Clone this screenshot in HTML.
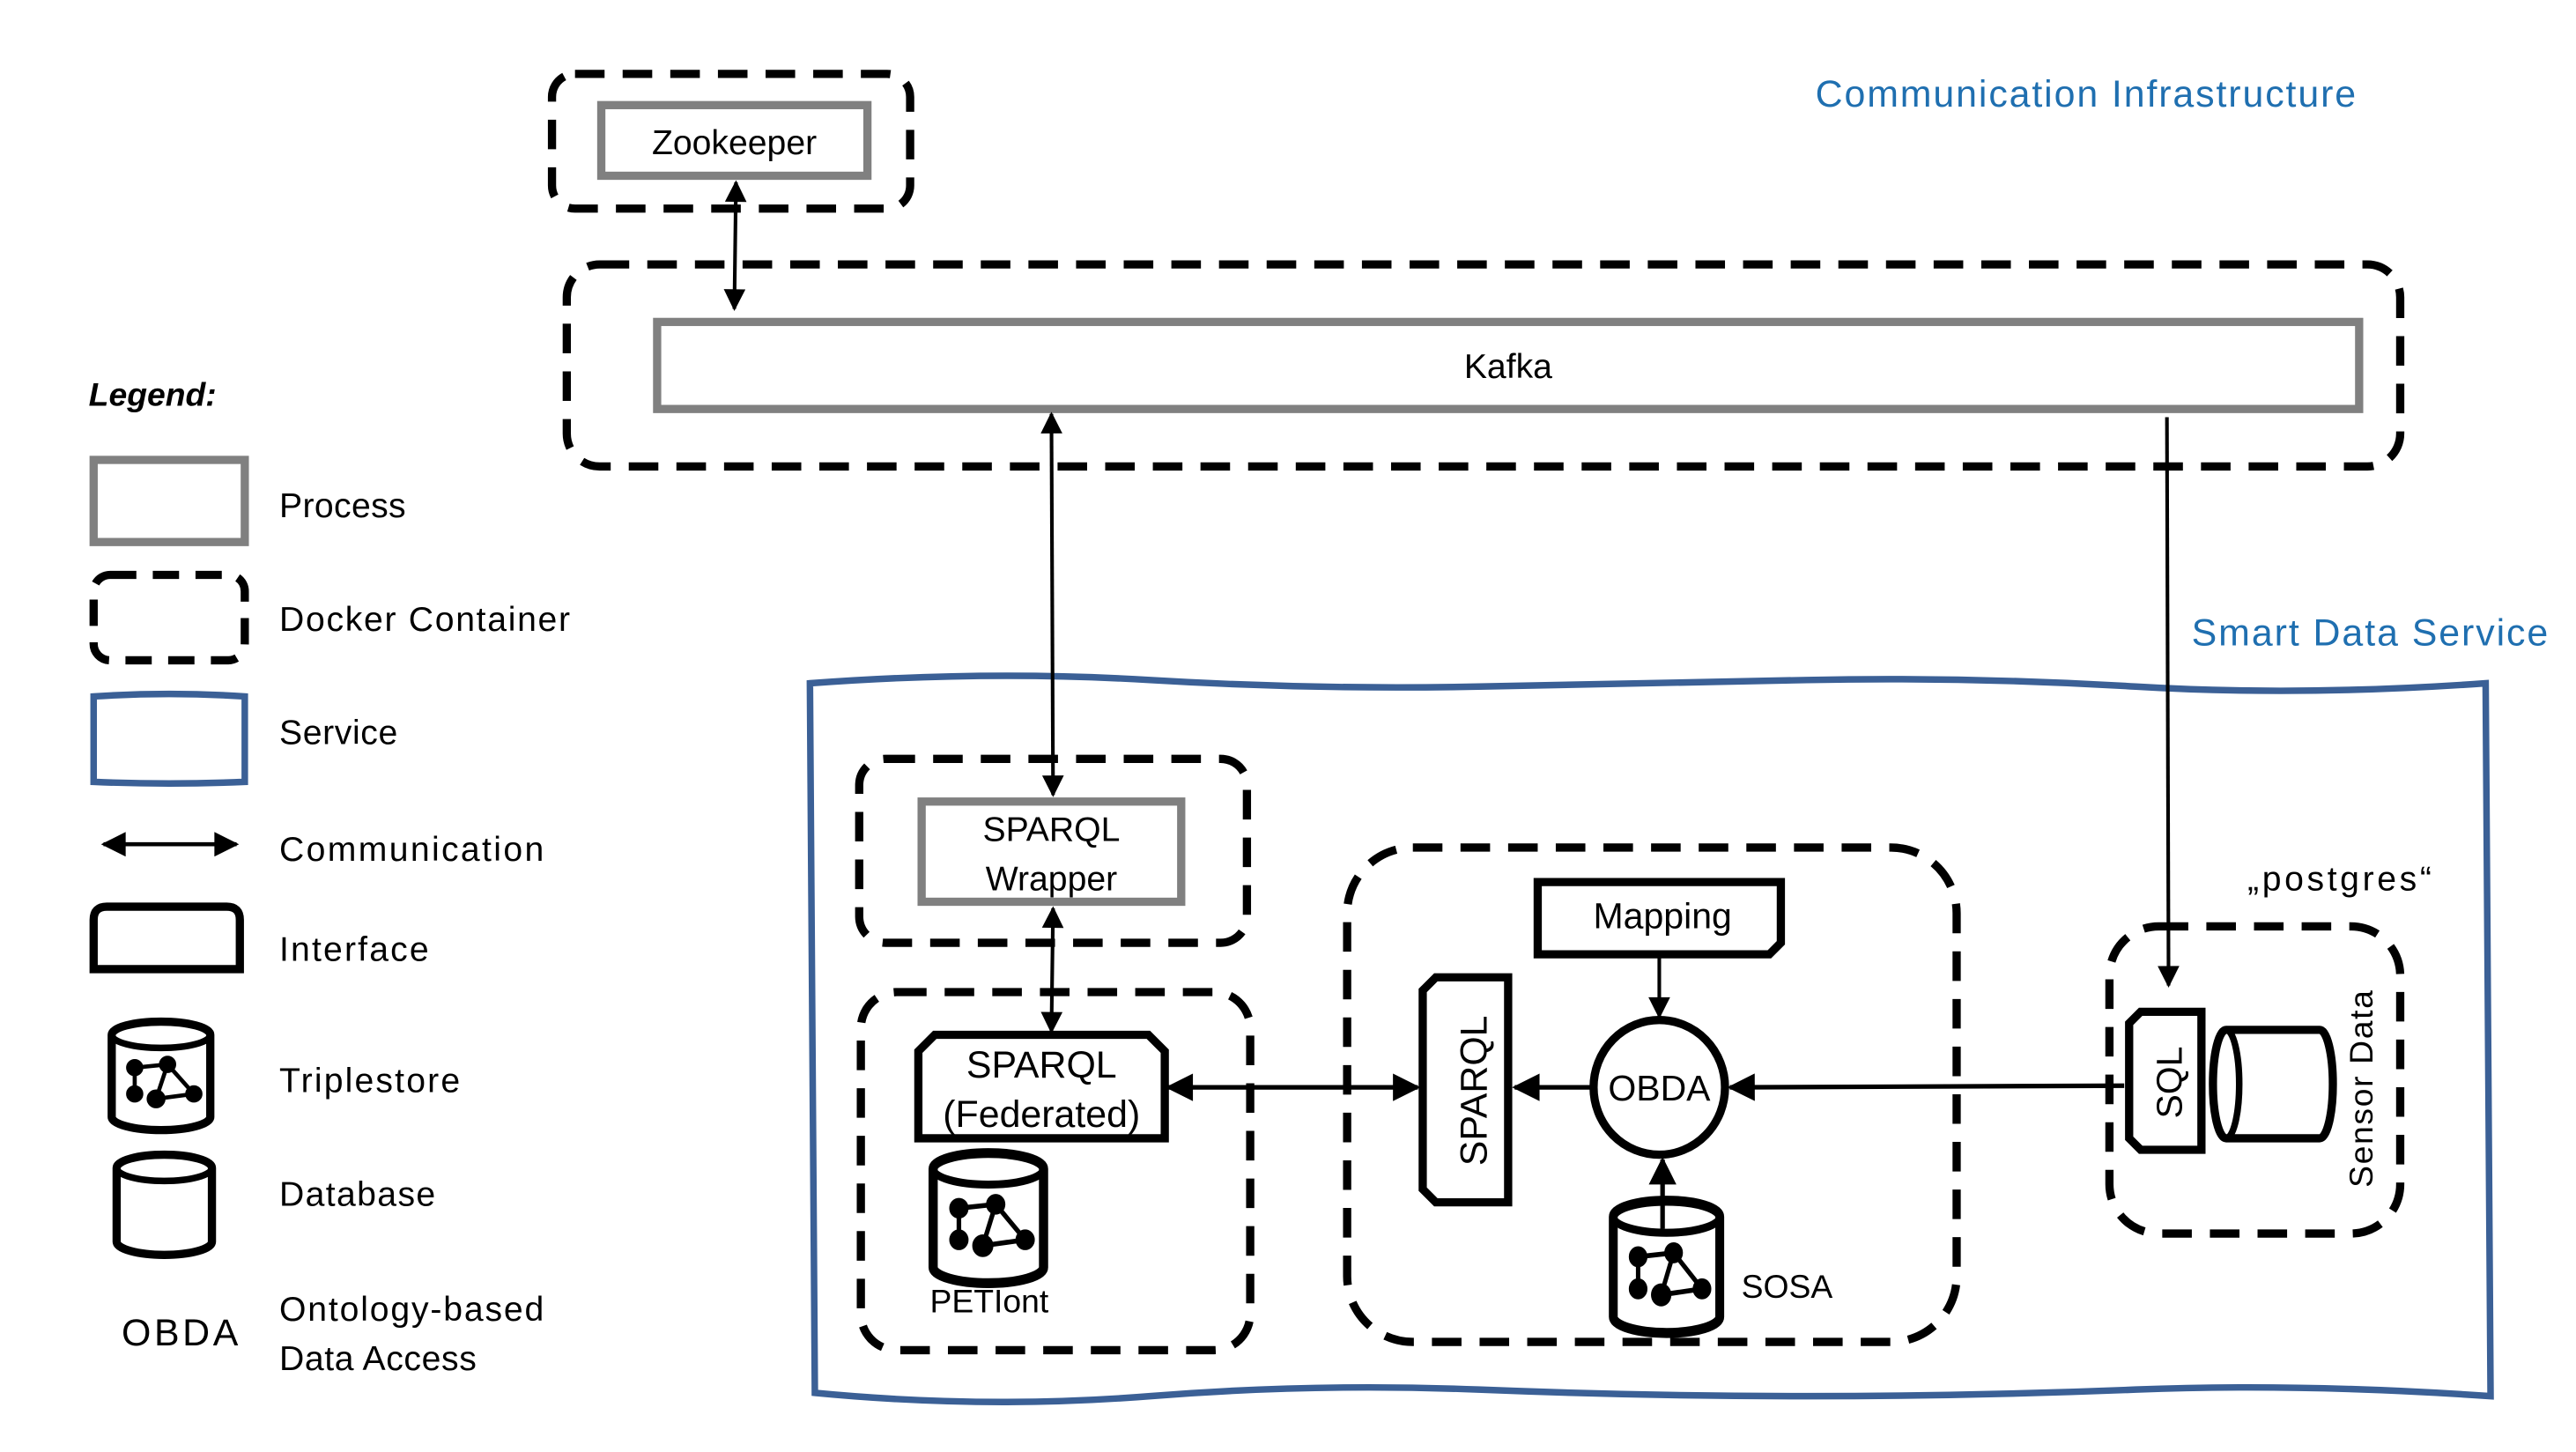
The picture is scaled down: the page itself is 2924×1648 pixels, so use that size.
<!DOCTYPE html>
<html><head><meta charset="utf-8"><style>
html,body{margin:0;padding:0;background:#fff;}
svg{display:block;}
text{font-family:"Liberation Sans",sans-serif;fill:#000;}
</style></head><body>
<svg width="2924" height="1648" viewBox="0 0 1568 884" preserveAspectRatio="none" xmlns="http://www.w3.org/2000/svg">
<defs>
<marker id="ah" viewBox="0 0 10 10" refX="9" refY="5" markerWidth="6.5" markerHeight="6" orient="auto-start-reverse"><path d="M0,0 L10,5 L0,10 Z" fill="#000"/></marker>
<g id="tri">
 <path d="M0,8 A30,8 0 0 1 60,8 L60,58 A30,8 0 0 1 0,58 Z" fill="#fff" stroke="#000" stroke-width="5"/>
 <path d="M0,8 A30,8 0 0 0 60,8" fill="none" stroke="#000" stroke-width="4"/>
 <g stroke="#000" stroke-width="2.5" fill="#000">
  <line x1="14" y1="28" x2="34" y2="26"/><line x1="14" y1="28" x2="14" y2="44"/><line x1="34" y1="26" x2="27" y2="47"/><line x1="34" y1="26" x2="50" y2="44"/><line x1="27" y1="47" x2="50" y2="44"/>
  <circle cx="14" cy="28" r="4"/><circle cx="34" cy="26" r="4"/><circle cx="14" cy="44" r="4"/><circle cx="27" cy="47" r="4.5"/><circle cx="50" cy="44" r="4"/>
 </g>
</g>
</defs>

<text x="1105" y="65" font-size="23" textLength="329" style="fill:#1f6fb0">Communication Infrastructure</text>
<text x="1334" y="393" font-size="23" textLength="217" style="fill:#1f6fb0">Smart Data Service</text>

<!-- Zookeeper -->
<rect x="336" y="45" width="218" height="82" rx="14" fill="none" stroke="#000" stroke-width="5" stroke-dasharray="18,11"/>
<rect x="366" y="64" width="162" height="43" fill="#fff" stroke="#808080" stroke-width="5"/>
<text x="447" y="94" font-size="21" text-anchor="middle">Zookeeper</text>
<line x1="448" y1="111" x2="447" y2="188" stroke="#000" stroke-width="2.2" marker-start="url(#ah)" marker-end="url(#ah)"/>

<!-- Kafka -->
<rect x="345" y="161" width="1116" height="123" rx="20" fill="none" stroke="#000" stroke-width="5" stroke-dasharray="18,11"/>
<rect x="400" y="196" width="1036" height="53" fill="#fff" stroke="#808080" stroke-width="5"/>
<text x="918" y="230" font-size="21" text-anchor="middle">Kafka</text>

<!-- Legend -->
<text x="54" y="247" font-size="20" font-weight="bold" font-style="italic">Legend:</text>
<rect x="57" y="280" width="92" height="50" fill="none" stroke="#808080" stroke-width="5"/>
<text x="170" y="315" font-size="21" textLength="77">Process</text>
<rect x="57" y="350" width="92" height="52" rx="10" fill="none" stroke="#000" stroke-width="5" stroke-dasharray="16,10"/>
<text x="170" y="384" font-size="21" textLength="177">Docker Container</text>
<path d="M57,424 Q103,421 149,424 L149,476 Q103,478 57,476 Z" fill="none" stroke="#3b6096" stroke-width="4"/>
<text x="170" y="453" font-size="21" textLength="72">Service</text>
<line x1="63" y1="514" x2="144" y2="514" stroke="#000" stroke-width="2.5" marker-start="url(#ah)" marker-end="url(#ah)"/>
<text x="170" y="524" font-size="21" textLength="161">Communication</text>
<path d="M57,590 L57,560 Q57,552 65,552 L138,552 Q146,552 146,560 L146,590 Z" fill="none" stroke="#000" stroke-width="5"/>
<text x="170" y="585" font-size="21" textLength="91">Interface</text>
<use href="#tri" x="68" y="622"/>
<text x="170" y="665" font-size="21" textLength="110">Triplestore</text>
<path d="M71,711 A29,8 0 0 1 129,711 L129,756 A29,8 0 0 1 71,756 Z" fill="#fff" stroke="#000" stroke-width="5"/>
<path d="M71,711 A29,8 0 0 0 129,711" fill="none" stroke="#000" stroke-width="4"/>
<text x="170" y="734" font-size="21" textLength="95">Database</text>
<text x="74" y="819" font-size="23" textLength="71">OBDA</text>
<text x="170" y="804" font-size="21" textLength="161">Ontology-based</text>
<text x="170" y="834" font-size="21" textLength="120">Data Access</text>

<!-- Service wavy -->
<path d="M493,416 Q600,408 700,414 T900,418 T1100,414 T1300,418 T1513,416 L1516,850 Q1400,842 1300,846 T1100,850 T900,846 T700,850 T496,848 Z" fill="none" stroke="#3b6096" stroke-width="4"/>

<!-- Kafka arrows -->
<line x1="640" y1="252" x2="641" y2="484" stroke="#000" stroke-width="2.2" marker-start="url(#ah)" marker-end="url(#ah)"/>
<line x1="1319" y1="254" x2="1320" y2="600" stroke="#000" stroke-width="2.2" marker-end="url(#ah)"/>

<!-- Wrapper container -->
<rect x="523" y="462" width="236" height="112" rx="16" fill="none" stroke="#000" stroke-width="5" stroke-dasharray="18,11"/>
<rect x="561" y="488" width="158" height="61" fill="#fff" stroke="#808080" stroke-width="5"/>
<text x="640" y="512" font-size="21" text-anchor="middle">SPARQL</text>
<text x="640" y="542" font-size="21" text-anchor="middle">Wrapper</text>
<line x1="641" y1="553" x2="640" y2="628" stroke="#000" stroke-width="2.2" marker-start="url(#ah)" marker-end="url(#ah)"/>

<!-- Federated container -->
<rect x="524" y="604" width="237" height="218" rx="22" fill="none" stroke="#000" stroke-width="5" stroke-dasharray="18,11"/>
<path d="M559,693 L559,640 L569,630 L699,630 L709,640 L709,693 Z" fill="#fff" stroke="#000" stroke-width="5"/>
<text x="634" y="656" font-size="23" text-anchor="middle">SPARQL</text>
<text x="634" y="686" font-size="23" text-anchor="middle">(Federated)</text>
<use href="#tri" transform="translate(568,702) scale(1.12,1.2)"/>
<text x="566" y="799" font-size="20">PETIont</text>

<!-- Middle container -->
<rect x="820" y="516" width="371" height="301" rx="40" fill="none" stroke="#000" stroke-width="5" stroke-dasharray="18,11"/>
<path d="M936,537 L1084,537 L1084,574 L1077,581 L936,581 Z" fill="#fff" stroke="#000" stroke-width="5"/>
<text x="1012" y="565" font-size="22" text-anchor="middle">Mapping</text>
<line x1="1010" y1="583" x2="1010" y2="619" stroke="#000" stroke-width="2.2" marker-end="url(#ah)"/>
<ellipse cx="1010" cy="662" rx="40" ry="41" fill="#fff" stroke="#000" stroke-width="5"/>
<text x="1010" y="670" font-size="22" text-anchor="middle">OBDA</text>
<path d="M874,595 L918,595 L918,732 L874,732 L866,724 L866,603 Z" fill="#fff" stroke="#000" stroke-width="5"/>
<text transform="translate(905,664) rotate(-90)" font-size="23" text-anchor="middle">SPARQL</text>
<line x1="711" y1="662" x2="863" y2="662" stroke="#000" stroke-width="2.8" marker-start="url(#ah)" marker-end="url(#ah)"/>
<line x1="968" y1="662" x2="922" y2="662" stroke="#000" stroke-width="2.8" marker-end="url(#ah)"/>
<line x1="1293" y1="661" x2="1053" y2="662" stroke="#000" stroke-width="2.8" marker-end="url(#ah)"/>
<use href="#tri" transform="translate(982,731) scale(1.08,1.22)"/>
<line x1="1012" y1="748" x2="1012" y2="706" stroke="#000" stroke-width="2.8" marker-end="url(#ah)"/>
<text x="1060" y="790" font-size="20">SOSA</text>

<!-- postgres -->
<text x="1368" y="542" font-size="21" textLength="112">„postgres“</text>
<rect x="1284" y="564" width="177" height="187" rx="30" fill="none" stroke="#000" stroke-width="5" stroke-dasharray="18,11"/>
<path d="M1296,623 L1303,616 L1340,616 L1340,700 L1303,700 L1296,693 Z" fill="#fff" stroke="#000" stroke-width="5"/>
<text transform="translate(1328,659) rotate(-90)" font-size="22" text-anchor="middle">SQL</text>
<path d="M1355,627 L1412,627 A8,33 0 0 1 1412,693 L1355,693 A8,33 0 0 1 1355,627 Z" fill="#fff" stroke="#000" stroke-width="5"/>
<path d="M1355,627 A8,33 0 0 1 1355,693" fill="none" stroke="#000" stroke-width="4"/>
<text transform="translate(1444,663) rotate(-90)" font-size="20" text-anchor="middle" textLength="120">Sensor Data</text>
</svg>
</body></html>
